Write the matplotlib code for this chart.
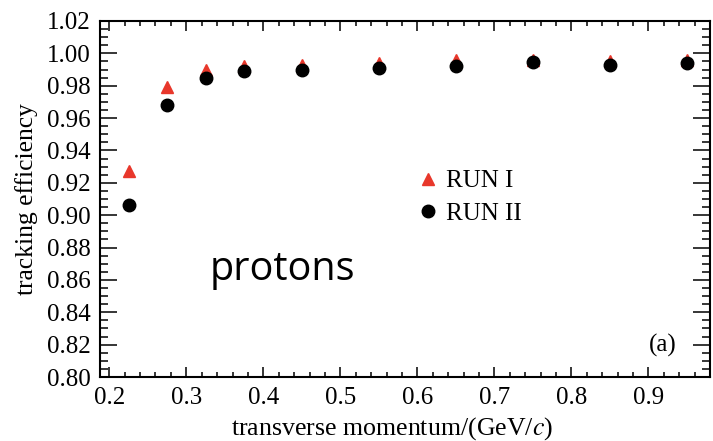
import matplotlib
matplotlib.use("Agg")
import matplotlib.pyplot as plt
from matplotlib.ticker import MultipleLocator, FormatStrFormatter

## tracking efficiency vs transverse momentum, protons
pt = [0.225, 0.275, 0.325, 0.375, 0.45, 0.55, 0.65, 0.75, 0.85, 0.95]
eff_run1 = [0.927, 0.979, 0.990, 0.992, 0.993, 0.994, 0.996, 0.996, 0.995, 0.996]
eff_run2 = [0.906, 0.968, 0.985, 0.989, 0.990, 0.991, 0.992, 0.9945, 0.993, 0.994]

plt.rcParams['font.family'] = ['Liberation Serif', 'DejaVu Serif']
plt.rcParams['mathtext.fontset'] = 'stix'

fig = plt.figure(figsize=(7.13, 4.41), dpi=100)
ax = fig.add_axes([0.1403, 0.1451, 0.8555, 0.8073])

ax.plot(pt, eff_run1, linestyle='none', marker='^', ms=9, color='#e8372b', label='RUN I')
ax.plot(pt, eff_run2, linestyle='none', marker='o', ms=9, color='black', label='RUN II')

ax.set_xlim(0.188, 0.98)
ax.set_ylim(0.80, 1.02)
ax.xaxis.set_major_locator(MultipleLocator(0.1))
ax.xaxis.set_minor_locator(MultipleLocator(0.02))
ax.yaxis.set_major_locator(MultipleLocator(0.02))
ax.yaxis.set_minor_locator(MultipleLocator(0.005))
ax.xaxis.set_major_formatter(FormatStrFormatter('%.1f'))
ax.yaxis.set_major_formatter(FormatStrFormatter('%.2f'))

ax.tick_params(axis='both', which='both', direction='in', top=True, right=True,
               labelsize=18, width=1.1)
ax.tick_params(axis='y', which='major', length=12.5, pad=7)
ax.tick_params(axis='y', which='minor', length=6)
ax.tick_params(axis='x', which='major', length=7.5, pad=7)
ax.tick_params(axis='x', which='minor', length=3.8)
for s in ax.spines.values():
    s.set_linewidth(1.5)

ax.set_xlabel(r'transverse momentum/(GeV/$c$)', fontsize=18.6)
ax.xaxis.set_label_coords(0.479, -0.108)
ax.set_ylabel('tracking efficiency', fontsize=18.4, labelpad=6)

ax.legend(loc='upper left', bbox_to_anchor=(0.505, 0.61), frameon=False, fontsize=18,
          handlelength=0.8, handletextpad=0.3, labelspacing=0.4, borderaxespad=0)

ax.text(0.18, 0.3, 'protons', transform=ax.transAxes, fontsize=28.5,
        family='Open Sans', ha='left', va='center')
ax.text(0.945, 0.09, '(a)', transform=ax.transAxes, fontsize=18,
        ha='right', va='center')

fig.savefig('out.png', dpi=100)
